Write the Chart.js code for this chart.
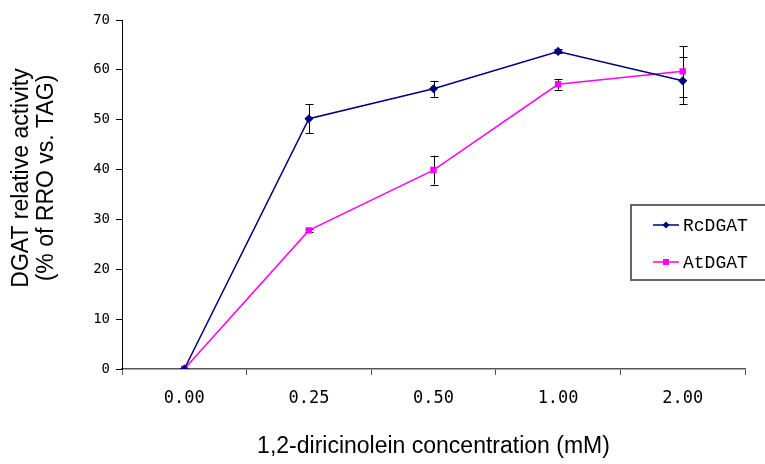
<!DOCTYPE html>
<html>
<head>
<meta charset="utf-8">
<script src="https://cdn.jsdelivr.net/npm/chart.js@4.4.1/dist/chart.umd.min.js"></script>
<style>
  html, body { margin: 0; padding: 0; background: #fff; }
  #wrap { width: 765px; height: 464px; }
</style>
</head>
<body>
<div id="wrap"><canvas id="activityChart" width="765" height="464"></canvas></div>
<script>
// Concentrations of 1,2-diricinolein (mM)
const concentrations = ["0.00", "0.25", "0.50", "1.00", "2.00"];

// Relative activity (% of RRO vs. TAG) and standard errors
const rcdgatValues = [0, 50.2, 56.2, 63.7, 57.8];
const rcdgatErrors = [0, 2.9, 1.6, 0.4, 4.7];
const atdgatValues = [0, 27.8, 39.9, 57.1, 59.7];
const atdgatErrors = [0, 0.3, 2.9, 1.1, 5.1];

const yTicks = [0, 10, 20, 30, 40, 50, 60, 70];
const yTitleLines = ["DGAT relative activity", "(% of RRO vs. TAG)"];

const colors = {
  rc: "#000080",
  at: "#ff00ff",
  axis: "#000000",
  axisX: "#555555",
  text: "#000000",
};

const titleFont = "23px 'Liberation Sans', Arial, sans-serif";

// Vertical error bars with short caps, drawn under the markers
const errorBars = {
  id: "errorBars",
  beforeDatasetsDraw(chart) {
    const ctx = chart.ctx;
    const yScale = chart.scales.y;
    ctx.save();
    ctx.strokeStyle = "#000";
    ctx.lineWidth = 1;
    chart.data.datasets.forEach((ds, i) => {
      const meta = chart.getDatasetMeta(i);
      ds.errors.forEach((err, j) => {
        if (!err) return;
        const x = Math.round(meta.data[j].x) + 0.5;
        const top = yScale.getPixelForValue(ds.data[j] + err);
        const bottom = yScale.getPixelForValue(ds.data[j] - err);
        ctx.beginPath();
        ctx.moveTo(x, top);
        ctx.lineTo(x, bottom);
        ctx.moveTo(x - 4, Math.round(top) + 0.5);
        ctx.lineTo(x + 4, Math.round(top) + 0.5);
        ctx.moveTo(x - 4, Math.round(bottom) + 0.5);
        ctx.lineTo(x + 4, Math.round(bottom) + 0.5);
        ctx.stroke();
      });
    });
    ctx.restore();
  },
};

// Two-line rotated y title, sitting a little above the plot's middle
const yTitle = {
  id: "yTitle",
  afterDraw(chart) {
    const ctx = chart.ctx;
    ctx.save();
    ctx.translate(0, 178);
    ctx.rotate(-Math.PI / 2);
    ctx.font = titleFont;
    ctx.fillStyle = colors.text;
    ctx.textAlign = "center";
    ctx.textBaseline = "middle";
    yTitleLines.forEach((line, i) => {
      ctx.fillText(line, 0, 22 + i * 25);
    });
    ctx.restore();
  },
};

// Boxed legend sitting inside the plot on the right
const boxLegend = {
  id: "boxLegend",
  afterDraw(chart) {
    const ctx = chart.ctx;
    ctx.save();
    ctx.strokeStyle = "#666";
    ctx.lineWidth = 2;
    ctx.strokeRect(631, 205, 150, 75);
    ctx.font = "18px 'Liberation Mono', monospace";
    ctx.textBaseline = "middle";
    chart.data.datasets.forEach((ds, i) => {
      const y = 225 + i * 37;
      ctx.strokeStyle = ds.borderColor;
      ctx.lineWidth = 1.5;
      ctx.beginPath();
      ctx.moveTo(653, y);
      ctx.lineTo(679, y);
      ctx.stroke();
      ctx.fillStyle = ds.borderColor;
      if (ds.pointStyle === "rect") {
        ctx.fillRect(663, y - 3, 6, 6);
      } else {
        ctx.beginPath();
        ctx.moveTo(666, y - 3.5);
        ctx.lineTo(669.5, y);
        ctx.lineTo(666, y + 3.5);
        ctx.lineTo(662.5, y);
        ctx.closePath();
        ctx.fill();
      }
      ctx.fillStyle = colors.text;
      ctx.fillText(ds.label, 683, y + 1);
    });
    ctx.restore();
  },
};

new Chart(document.getElementById("activityChart"), {
  type: "line",
  data: {
    labels: concentrations,
    datasets: [
      {
        label: "RcDGAT",
        data: rcdgatValues,
        errors: rcdgatErrors,
        borderColor: colors.rc,
        backgroundColor: colors.rc,
        borderWidth: 1.5,
        pointStyle: "rectRot",
        pointRadius: 3.5,
        tension: 0,
      },
      {
        label: "AtDGAT",
        data: atdgatValues,
        errors: atdgatErrors,
        borderColor: colors.at,
        backgroundColor: colors.at,
        borderWidth: 1.5,
        pointStyle: "rect",
        pointRadius: 3.5,
        tension: 0,
      },
    ],
  },
  plugins: [errorBars, yTitle, boxLegend],
  options: {
    responsive: false,
    animation: false,
    layout: { padding: { top: 20, right: 20, left: 0, bottom: 0 } },
    plugins: {
      legend: { display: false },
      tooltip: { enabled: false },
    },
    scales: {
      x: {
        offset: true,
        grid: {
          offset: true,
          drawOnChartArea: false,
          tickLength: 6,
          color: colors.axisX,
        },
        border: { color: colors.axisX, width: 1.5 },
        ticks: {
          color: colors.text,
          padding: 13,
          maxRotation: 0,
          font: { family: "'DejaVu Sans Mono', monospace", size: 17 },
        },
        title: {
          display: true,
          text: "1,2-diricinolein concentration (mM)",
          color: colors.text,
          font: { family: "'Liberation Sans', Arial, sans-serif", size: 23 },
          padding: { top: 18 },
        },
        afterFit(scale) {
          scale.height = 95;
        },
      },
      y: {
        min: 0,
        max: 70,
        afterBuildTicks(scale) {
          scale.ticks = yTicks.map((v) => ({ value: v }));
        },
        grid: {
          drawOnChartArea: false,
          tickLength: 6,
          color: colors.axis,
        },
        border: { color: colors.axis, width: 1 },
        ticks: {
          color: colors.text,
          padding: 6,
          font: { family: "'DejaVu Sans Mono', monospace", size: 14 },
        },
        afterFit(scale) {
          scale.width = 122;
        },
      },
    },
  },
});
</script>
</body>
</html>
